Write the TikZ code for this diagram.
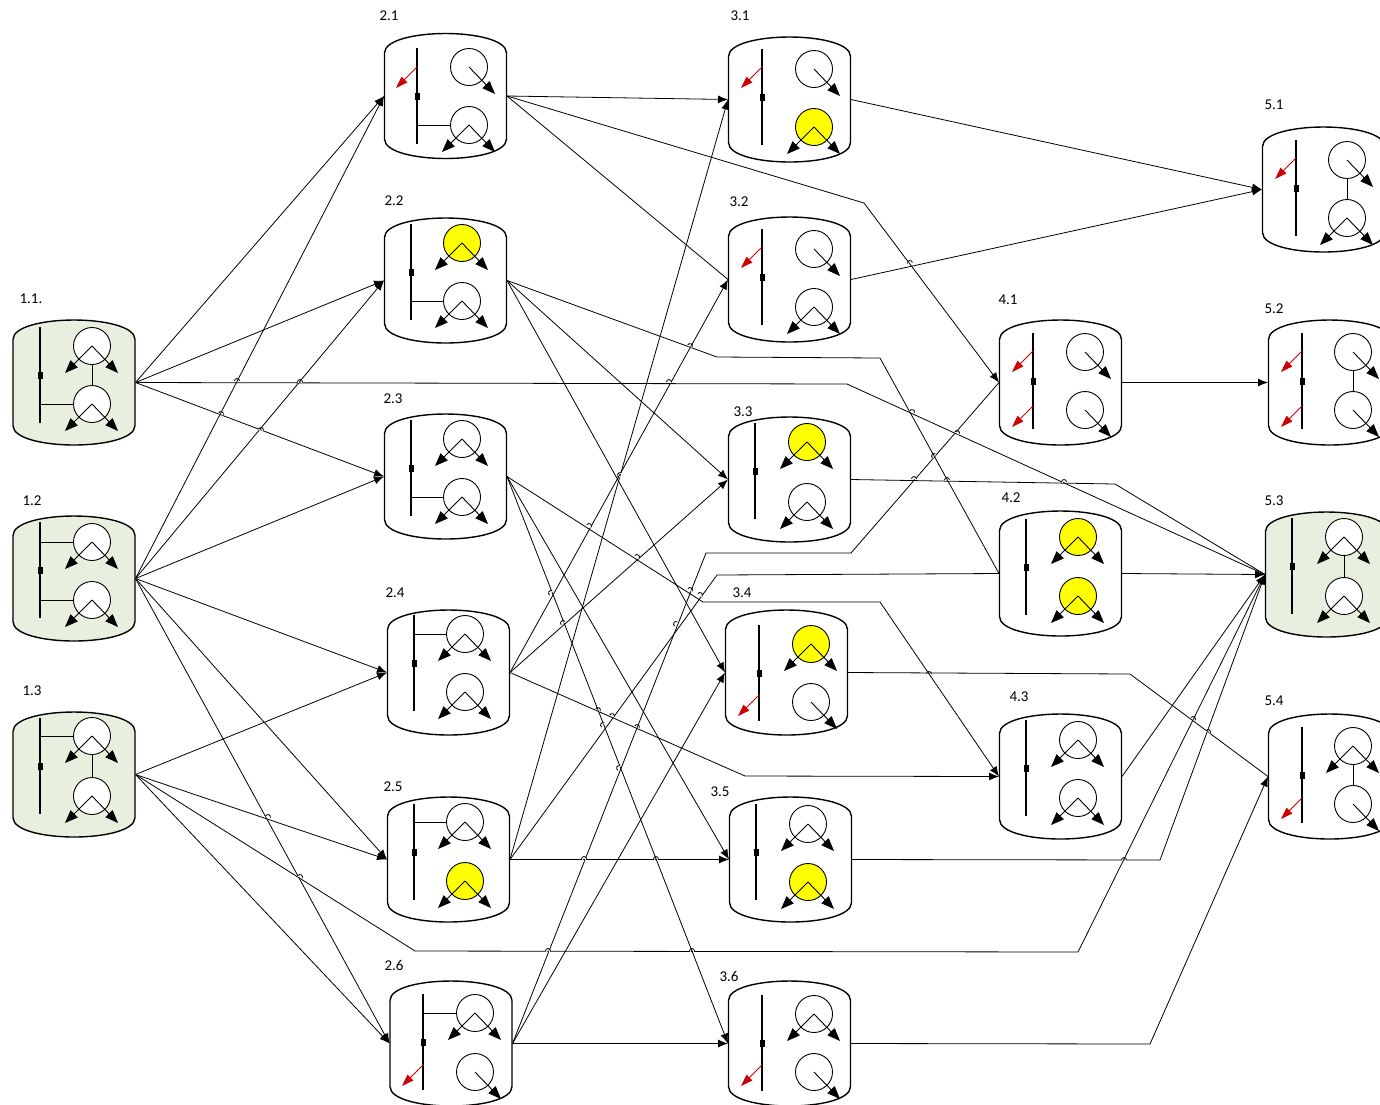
\documentclass[tikz,border=0pt]{standalone}
\usepackage{fontspec}
\setmainfont{Carlito}
\usetikzlibrary{arrows.meta,calc,positioning}
\tikzstyle{can} = [rectangle, minimum width=123pt, minimum height=125pt, inner sep=0pt, outer sep=0pt]
\tikzstyle{gen} = [circle, draw, line width=0.9pt, minimum size=37pt, inner sep=0pt, outer sep=0pt]
\tikzstyle{busq} = [rectangle, fill=black, minimum width=5pt, minimum height=7pt, inner sep=0pt]
\tikzstyle{tag} = [font=\fontsize{15}{17}\selectfont, inner sep=0pt, yshift=-0.7pt]
\tikzstyle{link} = [line width=0.9pt]
\tikzstyle{feed} = [line width=0.9pt, -{Triangle[length=13pt,width=10pt]}]
\tikzstyle{wire} = [line width=0.8pt]
\tikzstyle{flow} = [line width=0.8pt, -{Latex[length=10pt,width=8pt]}]
\definecolor{pale}{RGB}{233,239,222}
\definecolor{loss}{RGB}{204,0,0}
\definecolor{lit}{RGB}{255,255,0}
% can outline round a named node
\newcommand{\canwall}[2]{
  \path[draw, line width=1.4pt, fill=#2] ($(#1)+(-61,43)$) .. controls ($(#1)+(-61,56)$) and ($(#1)+(-30,62.5)$) .. ($(#1)+(0,62.5)$)
    .. controls ($(#1)+(30,62.5)$) and ($(#1)+(61,56)$) .. ($(#1)+(61,43)$) -- ($(#1)+(61,-43)$)
    .. controls ($(#1)+(61,-56)$) and ($(#1)+(30,-62.5)$) .. ($(#1)+(0,-62.5)$)
    .. controls ($(#1)+(-30,-62.5)$) and ($(#1)+(-61,-56)$) .. ($(#1)+(-61,-43)$) -- cycle;
}
% bus and two machines: name, fill, bus dx, bus dy, machine dx, upper dy, lower dy, upper fill, lower fill
\newcommand{\fitout}[9]{
  \canwall{#1}{#2}
  \node[busq] (#1q) at ($(#1)+(#3,#4)$) {};
  \path[draw, line width=1.4pt] ($(#1q)+(0,48)$) -- ($(#1q)+(0,-48)$);
  \node[gen, fill=#8] (#1a) at ($(#1)+(#5,#6)$) {};
  \node[gen, fill=#9] (#1b) at ($(#1)+(#5,#7)$) {};
}
\newcommand{\twoout}[1]{
  \path[draw,feed] (#1.center) -- ++(-27,-27);
  \path[draw,feed] (#1.center) -- ++(26,-27);
}
\newcommand{\oneout}[1]{\path[draw,feed] (#1.center) -- ++(26,-27);}
\newcommand{\droop}[2]{\path[draw, line width=0.9pt, draw=loss, -{Triangle[length=12pt,width=8pt]}] ($(#1q)+(0,#2)$) -- ++(-21,-21);}
\newcommand{\tie}[2]{\path[draw,link] (#2.west) -- (#2.west -| #1q);}
\newcommand{\joined}[1]{\path[draw,link] (#1a) -- (#1b);}

\begin{document}
\begin{tikzpicture}[x=1pt, y=1pt, node distance=2cm]
    \useasboundingbox (0,0) rectangle (1380,-1104);

    \node[can] (u11) at (74,-382.5) {};
    \node[can,below=71pt of u11] (u12) {};
    \node[can,below=71pt of u12] (u13) {};

    \node[can,right=248.5pt of u11,yshift=-94pt] (u23) {};
    \node[can,above=71pt of u23] (u22) {};
    \node[can,above=59.5pt of u22] (u21) {};
    \node[can,below=71pt of u23,xshift=3pt] (u24) {};
    \node[can,below=62pt of u24] (u25) {};
    \node[can,below=59pt of u25,xshift=2.5pt] (u26) {};

    \node[can,right=221pt of u21,yshift=-3.5pt] (u31) {};
    \node[can,below=55pt of u31] (u32) {};
    \node[can,below=75pt of u32] (u33) {};
    \node[can,below=68pt of u33,xshift=-3pt] (u34) {};
    \node[can,below=62pt of u34,xshift=4pt] (u35) {};
    \node[can,below=59pt of u35,xshift=-1pt] (u36) {};

    \node[can,right=148pt of u33,yshift=97pt] (u41) {};
    \node[can,below=66pt of u41] (u42) {};
    \node[can,below=78pt of u42] (u43) {};

    \node[can,right=146pt of u41] (u52) {};
    \node[can,above=68pt of u52,xshift=-6pt] (u51) {};
    \node[can,below=67pt of u52,xshift=-3pt] (u53) {};
    \node[can,below=77pt of u53,xshift=3pt] (u54) {};

    \path[draw,flow] (u11.east) -- (u21.west);
    \path[draw,flow] (u11.east) -- (u22.west);
    \path[draw,flow] (u11.east) -- (u23.west);
    \path[draw,flow] (u12.east) -- (u21.west);
    \path[draw,flow] (u12.east) -- (u22.west);
    \path[draw,flow] (u12.east) -- (u23.west);
    \path[draw,flow] (u12.east) -- (u24.west);
    \path[draw,flow] (u12.east) -- (u25.west);
    \path[draw,flow] (u12.east) -- (u26.west);
    \path[draw,flow] (u13.east) -- (u24.west);
    \path[draw,flow] (u13.east) -- (u25.west);
    \path[draw,flow] (u13.east) -- (u26.west);

    \path[draw,flow] (u21.east) -- (u31.west);
    \path[draw,wire] (u21.east) -- (u32.west);
    \path[draw,flow] (u22.east) -- (u33.west);
    \path[draw,flow] (u22.east) -- (u34.west);
    \path[draw,flow] (u23.east) -- (u35.west);
    \path[draw,flow] (u23.east) -- (u36.west);
    \path[draw,flow] (u24.east) -- (u32.west);
    \path[draw,flow] (u24.east) -- (u33.west);
    \path[draw,flow] (u25.east) -- (u31.west);
    \path[draw,flow] (u25.east) -- (u35.west);
    \path[draw,flow] (u26.east) -- (u34.west);
    \path[draw,flow] (u26.east) -- (u36.west);

    \coordinate (k1) at (847,-384);
    \coordinate (k2) at (415,-951);
    \coordinate (k3) at (1078,-952);
    \coordinate (k4) at (864,-203);
    \coordinate (k5) at (717,-357);
    \coordinate (k6) at (880,-358);
    \coordinate (k7) at (703,-602);
    \coordinate (k8) at (880,-602);
    \coordinate (k9) at (745,-776);
    \coordinate (k10) at (717,-575);
    \coordinate (k11) at (706,-553);
    \coordinate (k12) at (851,-553);
    \coordinate (k13) at (1115,-484);
    \coordinate (k14) at (1130,-674);
    \coordinate (k15) at (1160,-860);
    \coordinate (k16) at (1150,-1044);

    \path[draw,wire] (u11.east) -- (k1) -- (u53.west);
    \path[draw,wire] (u13.east) -- (k2) -- (k3) -- (u53.west);
    \path[draw,flow] (u21.east) -- (k4) -- (u41.west);
    \path[draw,wire] (u22.east) -- (k5) -- (k6) -- (u42.west);
    \path[draw,flow] (u23.east) -- (k7) -- (k8) -- (u43.west);
    \path[draw,flow] (u24.east) -- (k9) -- (u43.west);
    \path[draw,wire] (u25.east) -- (k10) -- (u42.west);
    \path[draw,wire] (u26.east) -- (k11) -- (k12) -- (u41.west);

    \path[draw,flow] (u31.east) -- (u51.west);
    \path[draw,flow] (u32.east) -- (u51.west);
    \path[draw,wire] (u33.east) -- (k13) -- (u53.west);
    \path[draw,wire] (u34.east) -- (k14) -- (u54.west);
    \path[draw,flow] (u35.east) -- (k15) -- (u53.west);
    \path[draw,flow] (u36.east) -- (k16) -- (u54.west);
    \path[draw,flow] (u41.east) -- (u52.west);
    \path[draw,flow] (u42.east) -- (u53.west);
    \path[draw,flow] (u43.east) -- (u53.west);

    % small hops where lines cross
    \foreach \hx/\hy/\ha in {237/381/0, 300/382/0, 669/382/0, 221/414/-22, 261/430/-22,
        268/817/-16, 300/877/-32, 548/951/0, 692/951/0, 584/859/0, 656/859/0,
        589/526/-33, 637/557/-33, 690/590/-33, 700/595/-33,
        690/346/-22, 912/412/-25, 957/433/-25, 934/456/50,
        914/479/0, 947/480/0, 1064/482/0, 910/263/12,
        929/674/0, 1193/719/-38, 1208/732/-38, 1124/860/0,
        598/710/-24, 612/716/-24, 637/727/-24,
        551/593/60, 563/623/42, 620/475/72, 676/624/55, 603/725/55, 619/768/65} {
      \draw[white, line width=1.4pt] ($(\hx,-\hy)+(\ha:1)$) -- ($(\hx,-\hy)+(\ha:2.4)$);
      \draw[white, line width=1.4pt] ($(\hx,-\hy)+(\ha+180:1)$) -- ($(\hx,-\hy)+(\ha+180:2.4)$);
      \draw[wire] ($(\hx,-\hy)+(\ha+180:2.5)$) arc[start angle=\ha+180, end angle=\ha, radius=2.5];
    }

    \fitout{u11}{pale}{-34}{7.5}{18}{36.5}{-21.5}{white}{white}
    \twoout{u11a} \twoout{u11b} \tie{u11}{u11b} \joined{u11}
    \fitout{u12}{pale}{-34}{8.5}{18}{36.5}{-21.5}{white}{white}
    \twoout{u12a} \twoout{u12b} \tie{u12}{u12a} \tie{u12}{u12b}
    \fitout{u13}{pale}{-34}{8.5}{18}{38.5}{-21.5}{white}{white}
    \twoout{u13a} \twoout{u13b} \tie{u13}{u13a} \joined{u13}

    \fitout{u21}{white}{-28.5}{0}{23.5}{29}{-29}{white}{white}
    \oneout{u21a} \twoout{u21b} \tie{u21}{u21b} \droop{u21}{29}
    \fitout{u22}{white}{-34.5}{8.5}{16.5}{37.5}{-20.5}{lit}{white}
    \twoout{u22a} \twoout{u22b} \tie{u22}{u22b}
    \fitout{u23}{white}{-34.5}{8.5}{16.5}{37.5}{-20.5}{white}{white}
    \twoout{u23a} \twoout{u23b} \tie{u23}{u23b}
    \fitout{u24}{white}{-34.5}{9.5}{16.5}{38.5}{-19.5}{white}{white}
    \twoout{u24a} \twoout{u24b} \tie{u24}{u24a}
    \fitout{u25}{white}{-34.5}{7.5}{16.5}{37.5}{-21.5}{white}{lit}
    \twoout{u25a} \twoout{u25b} \tie{u25}{u25a}
    \fitout{u26}{white}{-28}{1.5}{24}{30.5}{-28.5}{white}{white}
    \twoout{u26a} \oneout{u26b} \tie{u26}{u26a} \droop{u26}{-23}

    \fitout{u31}{white}{-27.5}{2.5}{24.5}{30.5}{-27.5}{white}{lit}
    \oneout{u31a} \twoout{u31b} \droop{u31}{30}
    \fitout{u32}{white}{-27.5}{2.5}{24.5}{30.5}{-27.5}{white}{white}
    \oneout{u32a} \twoout{u32b} \droop{u32}{30}
    \fitout{u33}{white}{-34.5}{8.5}{17.5}{37.5}{-22.5}{lit}{white}
    \twoout{u33a} \twoout{u33b}
    \fitout{u34}{white}{-27.5}{-0.5}{24.5}{28.5}{-29.5}{lit}{white}
    \twoout{u34a} \oneout{u34b} \droop{u34}{-22}
    \fitout{u35}{white}{-34.5}{7.5}{17.5}{35.5}{-22.5}{white}{lit}
    \twoout{u35a} \twoout{u35b}
    \fitout{u36}{white}{-27.5}{0.5}{24.5}{29.5}{-28.5}{white}{white}
    \twoout{u36a} \oneout{u36b} \droop{u36}{-22}

    \fitout{u41}{white}{-27.5}{1.5}{24.5}{30.5}{-27.5}{white}{white}
    \oneout{u41a} \oneout{u41b} \droop{u41}{30} \droop{u41}{-25}
    \fitout{u42}{white}{-34.5}{6.5}{17.5}{36.5}{-22.5}{lit}{lit}
    \twoout{u42a} \twoout{u42b}
    \fitout{u43}{white}{-34.5}{8.5}{17.5}{36.5}{-21.5}{white}{white}
    \twoout{u43a} \twoout{u43b}

    \fitout{u51}{white}{-27.5}{1.5}{23.5}{29.5}{-28.5}{white}{white}
    \oneout{u51a} \twoout{u51b} \joined{u51} \droop{u51}{30}
    \fitout{u52}{white}{-27.5}{1.5}{23.5}{30.5}{-27.5}{white}{white}
    \oneout{u52a} \oneout{u52b} \joined{u52} \droop{u52}{30} \droop{u52}{-25}
    \fitout{u53}{pale}{-34.5}{8.5}{17.5}{37.5}{-21.5}{white}{white}
    \twoout{u53a} \twoout{u53b} \joined{u53}
    \fitout{u54}{white}{-27.5}{1.5}{23.5}{30.5}{-27.5}{white}{white}
    \twoout{u54a} \oneout{u54b} \joined{u54} \droop{u54}{-23}

    \node[tag] (t11) at (31,-298) {1.1.};
    \node[tag] (t12) at (32,-500) {1.2};
    \node[tag] (t13) at (32,-690) {1.3};
    \node[tag] (t21) at (389,-15) {2.1};
    \node[tag] (t22) at (394,-200) {2.2};
    \node[tag] (t23) at (393,-398) {2.3};
    \node[tag] (t24) at (395,-592) {2.4};
    \node[tag] (t25) at (393,-786) {2.5};
    \node[tag] (t26) at (394,-965) {2.6};
    \node[tag] (t31) at (740,-15) {3.1};
    \node[tag] (t32) at (739,-201) {3.2};
    \node[tag] (t33) at (743,-411) {3.3};
    \node[tag] (t34) at (742,-592) {3.4};
    \node[tag] (t35) at (720,-791) {3.5};
    \node[tag] (t36) at (729,-976) {3.6};
    \node[tag] (t41) at (1008,-299) {4.1};
    \node[tag] (t42) at (1011,-497) {4.2};
    \node[tag] (t43) at (1019,-696) {4.3};
    \node[tag] (t51) at (1274,-104) {5.1};
    \node[tag] (t52) at (1274,-308) {5.2};
    \node[tag] (t53) at (1274,-500) {5.3};
    \node[tag] (t54) at (1274,-700) {5.4};
\end{tikzpicture}
\end{document}
